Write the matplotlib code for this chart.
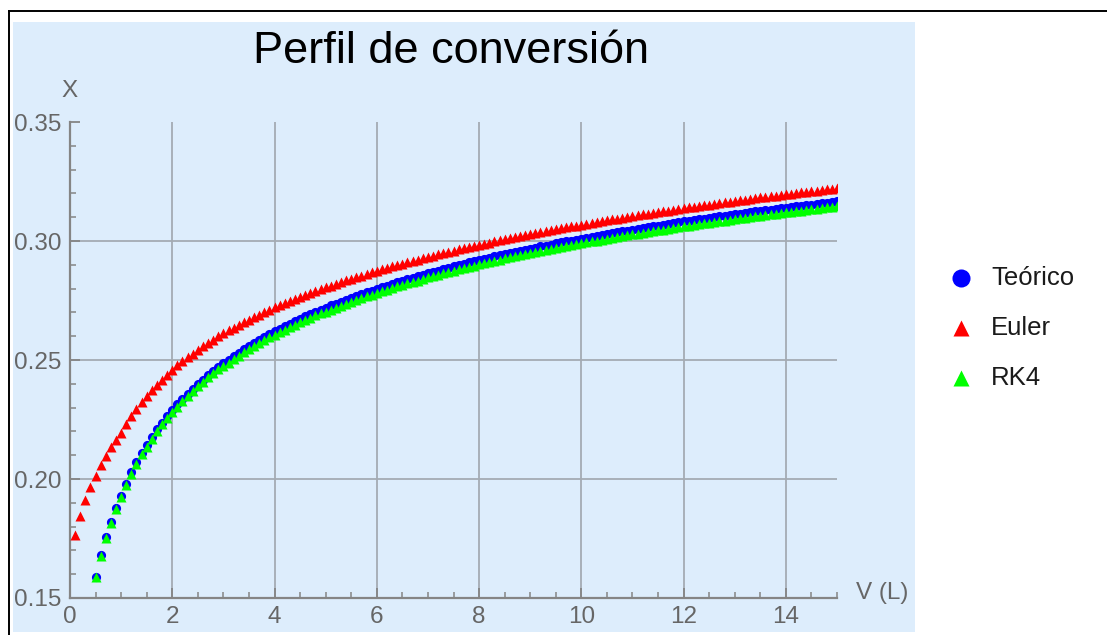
import numpy as np
import matplotlib
matplotlib.use("Agg")
import matplotlib.pyplot as plt
from matplotlib.patches import Rectangle
from matplotlib.lines import Line2D

plt.rcParams['font.family'] = ['Liberation Sans', 'DejaVu Sans']

# ---------------- data ----------------
title = "Perfil de conversión"
xlabel = "V (L)"
ylabel = "X"
series_names = ["Teórico", "Euler", "RK4"]

# volume grids (step 0.1 L)
V_euler = np.round(np.arange(1, 151) * 0.1, 1)        # 0.1 .. 15.0
V_teo = np.round(np.arange(5, 151) * 0.1, 1)          # 0.5 .. 15.0 (lower values are below the plot range)
V_rk4 = np.round(np.arange(5, 151) * 0.1, 1)

X_teo = [
    0.1590, 0.1680, 0.1755, 0.1820, 0.1877,
    0.1930, 0.1981, 0.2028, 0.2070, 0.2109, 0.2144, 0.2177, 0.2208, 0.2237, 0.2264,
    0.2290, 0.2314, 0.2337, 0.2359, 0.2380, 0.2400, 0.2418, 0.2437, 0.2454, 0.2471,
    0.2487, 0.2502, 0.2517, 0.2531, 0.2545, 0.2559, 0.2572, 0.2584, 0.2597, 0.2608,
    0.2620, 0.2631, 0.2642, 0.2653, 0.2663, 0.2673, 0.2683, 0.2692, 0.2702, 0.2711,
    0.2720, 0.2729, 0.2737, 0.2745, 0.2754, 0.2762, 0.2769, 0.2777, 0.2785, 0.2792,
    0.2799, 0.2806, 0.2813, 0.2820, 0.2827, 0.2833, 0.2840, 0.2846, 0.2852, 0.2858,
    0.2865, 0.2870, 0.2876, 0.2882, 0.2888, 0.2893, 0.2899, 0.2904, 0.2910, 0.2915,
    0.2920, 0.2925, 0.2930, 0.2935, 0.2940, 0.2945, 0.2950, 0.2954, 0.2959, 0.2963,
    0.2968, 0.2972, 0.2977, 0.2981, 0.2985, 0.2990, 0.2994, 0.2998, 0.3002, 0.3006,
    0.3010, 0.3014, 0.3018, 0.3022, 0.3026, 0.3030, 0.3033, 0.3037, 0.3041, 0.3044,
    0.3048, 0.3051, 0.3055, 0.3058, 0.3062, 0.3065, 0.3068, 0.3072, 0.3075, 0.3078,
    0.3082, 0.3085, 0.3088, 0.3091, 0.3094, 0.3097, 0.3100, 0.3103, 0.3106, 0.3109,
    0.3112, 0.3115, 0.3118, 0.3121, 0.3124, 0.3127, 0.3129, 0.3132, 0.3135, 0.3138,
    0.3140, 0.3143, 0.3146, 0.3148, 0.3151, 0.3153, 0.3156, 0.3159, 0.3161, 0.3164,
    0.3166,
]

X_euler = [
    0.1765, 0.1845, 0.1910, 0.1965, 0.2013, 0.2057, 0.2097, 0.2133, 0.2165,
    0.2195, 0.2231, 0.2264, 0.2295, 0.2323, 0.2349, 0.2373, 0.2396, 0.2418, 0.2439,
    0.2458, 0.2477, 0.2494, 0.2511, 0.2527, 0.2543, 0.2558, 0.2572, 0.2586, 0.2599,
    0.2612, 0.2624, 0.2636, 0.2648, 0.2659, 0.2670, 0.2681, 0.2691, 0.2702, 0.2711,
    0.2721, 0.2730, 0.2740, 0.2748, 0.2757, 0.2766, 0.2774, 0.2782, 0.2790, 0.2798,
    0.2806, 0.2813, 0.2821, 0.2828, 0.2835, 0.2842, 0.2849, 0.2855, 0.2862, 0.2868,
    0.2875, 0.2881, 0.2887, 0.2893, 0.2899, 0.2905, 0.2911, 0.2917, 0.2922, 0.2928,
    0.2933, 0.2939, 0.2944, 0.2949, 0.2954, 0.2960, 0.2965, 0.2970, 0.2974, 0.2979,
    0.2984, 0.2989, 0.2993, 0.2998, 0.3003, 0.3007, 0.3011, 0.3016, 0.3020, 0.3024,
    0.3029, 0.3033, 0.3037, 0.3041, 0.3045, 0.3049, 0.3053, 0.3057, 0.3061, 0.3065,
    0.3069, 0.3072, 0.3076, 0.3080, 0.3084, 0.3087, 0.3091, 0.3094, 0.3098, 0.3101,
    0.3105, 0.3108, 0.3112, 0.3115, 0.3118, 0.3122, 0.3125, 0.3128, 0.3131, 0.3135,
    0.3138, 0.3141, 0.3144, 0.3147, 0.3150, 0.3153, 0.3156, 0.3159, 0.3162, 0.3165,
    0.3168, 0.3171, 0.3174, 0.3177, 0.3180, 0.3183, 0.3185, 0.3188, 0.3191, 0.3194,
    0.3196, 0.3199, 0.3202, 0.3204, 0.3207, 0.3210, 0.3212, 0.3215, 0.3217, 0.3220,
    0.3223,
]

X_rk4 = [
    0.1587, 0.1677, 0.1752, 0.1817, 0.1874,
    0.1925, 0.1976, 0.2023, 0.2065, 0.2104, 0.2136, 0.2169, 0.2200, 0.2229, 0.2256,
    0.2280, 0.2304, 0.2327, 0.2349, 0.2370, 0.2390, 0.2408, 0.2427, 0.2444, 0.2461,
    0.2474, 0.2489, 0.2504, 0.2518, 0.2532, 0.2546, 0.2559, 0.2571, 0.2584, 0.2595,
    0.2605, 0.2616, 0.2627, 0.2638, 0.2648, 0.2658, 0.2668, 0.2677, 0.2687, 0.2696,
    0.2703, 0.2712, 0.2720, 0.2728, 0.2737, 0.2745, 0.2752, 0.2760, 0.2768, 0.2775,
    0.2781, 0.2788, 0.2795, 0.2802, 0.2809, 0.2815, 0.2822, 0.2828, 0.2834, 0.2840,
    0.2847, 0.2852, 0.2858, 0.2864, 0.2870, 0.2875, 0.2881, 0.2886, 0.2892, 0.2897,
    0.2902, 0.2907, 0.2912, 0.2917, 0.2922, 0.2927, 0.2932, 0.2936, 0.2941, 0.2945,
    0.2950, 0.2954, 0.2959, 0.2963, 0.2967, 0.2972, 0.2976, 0.2980, 0.2984, 0.2988,
    0.2990, 0.2994, 0.2998, 0.3002, 0.3006, 0.3010, 0.3013, 0.3017, 0.3021, 0.3024,
    0.3028, 0.3031, 0.3035, 0.3038, 0.3042, 0.3045, 0.3048, 0.3052, 0.3055, 0.3058,
    0.3062, 0.3065, 0.3068, 0.3071, 0.3074, 0.3077, 0.3080, 0.3083, 0.3086, 0.3089,
    0.3092, 0.3095, 0.3098, 0.3101, 0.3104, 0.3107, 0.3109, 0.3112, 0.3115, 0.3118,
    0.3120, 0.3123, 0.3126, 0.3128, 0.3131, 0.3133, 0.3136, 0.3139, 0.3141, 0.3144,
    0.3146,
]

x_ticks = [0, 2, 4, 6, 8, 10, 12, 14]
y_ticks = [0.15, 0.20, 0.25, 0.30, 0.35]
y_ticklabels = ["0.15", "0.20", "0.25", "0.30", "0.35"]
x_grid = [2, 4, 6, 8, 10, 12, 14]
y_grid = [0.20, 0.25, 0.30]

# ---------------- figure ----------------
W, H = 1107, 635
fig = plt.figure(figsize=(W / 100, H / 100), dpi=100)
fig.patch.set_facecolor("white")

def fx(px):
    return px / W

def fy(py):
    return 1 - py / H

# light-blue background panel
fig.patches.append(Rectangle((fx(13), fy(632)), fx(915) - fx(13), fy(22) - fy(632),
                             transform=fig.transFigure, facecolor="#DDEDFC",
                             edgecolor="none", zorder=-5))
# outer frame (left and top)
fig.add_artist(Line2D([fx(8.5), fx(8.5)], [fy(10.5), fy(640)], transform=fig.transFigure,
                      color="black", lw=1.4))
fig.add_artist(Line2D([fx(8.5), fx(1110)], [fy(10.5), fy(10.5)], transform=fig.transFigure,
                      color="black", lw=1.4))

ax = fig.add_axes([fx(70), fy(598), fx(837) - fx(70), fy(122) - fy(598)])
ax.set_zorder(2)
ax.set_facecolor("none")
ax.patch.set_alpha(0)
ax.set_xlim(0, 15)
ax.set_ylim(0.15, 0.35)

axis_col = "#858585"
label_col = "#666666"
grid_col = "#a4abb3"

for s in ["top", "right"]:
    ax.spines[s].set_visible(False)
for s in ["left", "bottom"]:
    ax.spines[s].set_color(axis_col)
    ax.spines[s].set_linewidth(1.6)

for gx in x_grid:
    ax.axvline(gx, color=grid_col, lw=1.3, zorder=1)
for gy in y_grid:
    ax.axhline(gy, color=grid_col, lw=1.3, zorder=1)

ax.set_xticks(x_ticks)
ax.set_xticklabels([str(t) for t in x_ticks])
ax.set_xticks(np.arange(0, 15.01, 0.5), minor=True)
ax.set_yticks(y_ticks)
ax.set_yticklabels(y_ticklabels)
ax.set_yticks(np.arange(0.15, 0.3501, 0.01), minor=True)
ax.tick_params(which="major", direction="in", length=7.5, width=1.3, color=axis_col,
               labelsize=17.5, labelcolor=label_col, pad=6)
ax.tick_params(which="minor", direction="in", length=4.5, width=1.1, color=axis_col)

ax.plot(V_teo, X_teo, "o", ms=6.6, color="#0000FF", mec="none", zorder=3, clip_on=True)
ax.plot(V_euler, X_euler, "^", ms=7.2, color="#FF0000", mec="none", zorder=3, clip_on=True)
ax.plot(V_rk4, X_rk4, "^", ms=7.2, color="#00FF00", mec="none", zorder=4, clip_on=True)

# axis labels
fig.text(fx(70), fy(91), ylabel, ha="center", va="center", fontsize=17.5, color=label_col)
fig.text(fx(856), fy(599), xlabel, ha="left", va="baseline", fontsize=17.5, color=label_col)

# title
fig.text(fx(451), fy(63), title, ha="center", va="baseline", fontsize=32.5, color="black")

# legend
leg_y = [278, 328, 378]
leg_markers = ["o", "^", "^"]
leg_colors = ["#0000FF", "#FF0000", "#00FF00"]
leg_sizes = [13, 12, 12]
for name, yy, mk, c, ms in zip(series_names, leg_y, leg_markers, leg_colors, leg_sizes):
    fig.add_artist(Line2D([fx(961)], [fy(yy)], transform=fig.transFigure, marker=mk,
                          ms=ms, color=c, mec="none", ls="none"))
    fig.text(fx(991), fy(yy), name, ha="left", va="center", fontsize=18.5, color="#1a1a1a")

fig.savefig("out.png", dpi=100)
